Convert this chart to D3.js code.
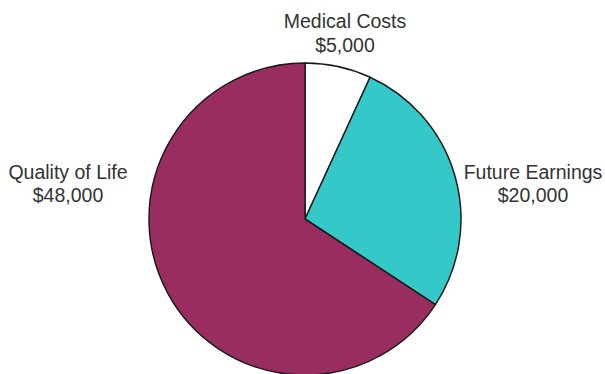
<!DOCTYPE html>
<html>
<head>
<meta charset="utf-8">
<script src="https://cdn.jsdelivr.net/npm/d3@7"></script>
<style>
  body { margin: 0; background: #fff; }
  text { font-family: Arial, "Liberation Sans", sans-serif; }
</style>
</head>
<body>
<div id="chart"></div>
<script>
const categories = ['Medical Costs', 'Future Earnings', 'Quality of Life'];
const values = [5000, 20000, 48000];
const valueLabels = ['$5,000', '$20,000', '$48,000'];
const colors = ['#ffffff', '#35c8c8', '#9a2d5f'];

const width = 605, height = 374;
const cx = 305, cy = 219, radius = 156;

// label spots, tuned by eye
const labelPos = {
  'Medical Costs': { x: 345, y: 28 },
  'Future Earnings': { x: 533, y: 179 },
  'Quality of Life': { x: 68, y: 179 },
};

const data = categories.map((c, i) => ({ name: c, value: values[i], label: valueLabels[i] }));

const svg = d3.select('#chart')
  .append('svg')
  .attr('width', width)
  .attr('height', height);

const g = svg.append('g')
  .attr('transform', `translate(${cx},${cy})`);

const color = d3.scaleOrdinal().domain(categories).range(colors);

const pie = d3.pie()
  .sort(null)
  .value(d => d.value);

const arc = d3.arc()
  .innerRadius(0)
  .outerRadius(radius);

g.selectAll('path')
  .data(pie(data))
  .enter()
  .append('path')
  .attr('d', arc)
  .attr('fill', d => color(d.data.name))
  .attr('stroke', '#1c1c1c')
  .attr('stroke-width', 1.5)
  .attr('stroke-linejoin', 'round');

const labels = svg.append('g')
  .selectAll('text')
  .data(data)
  .enter()
  .append('text')
  .attr('text-anchor', 'middle')
  .attr('fill', '#333')
  .style('font-size', '19.5px')
  .attr('x', d => labelPos[d.name].x)
  .attr('y', d => labelPos[d.name].y);

labels.append('tspan')
  .attr('x', d => labelPos[d.name].x)
  .text(d => d.name);

labels.append('tspan')
  .attr('x', d => labelPos[d.name].x)
  .attr('dy', d => d.name === 'Medical Costs' ? 24 : 23)
  .text(d => d.label);
</script>
</body>
</html>
